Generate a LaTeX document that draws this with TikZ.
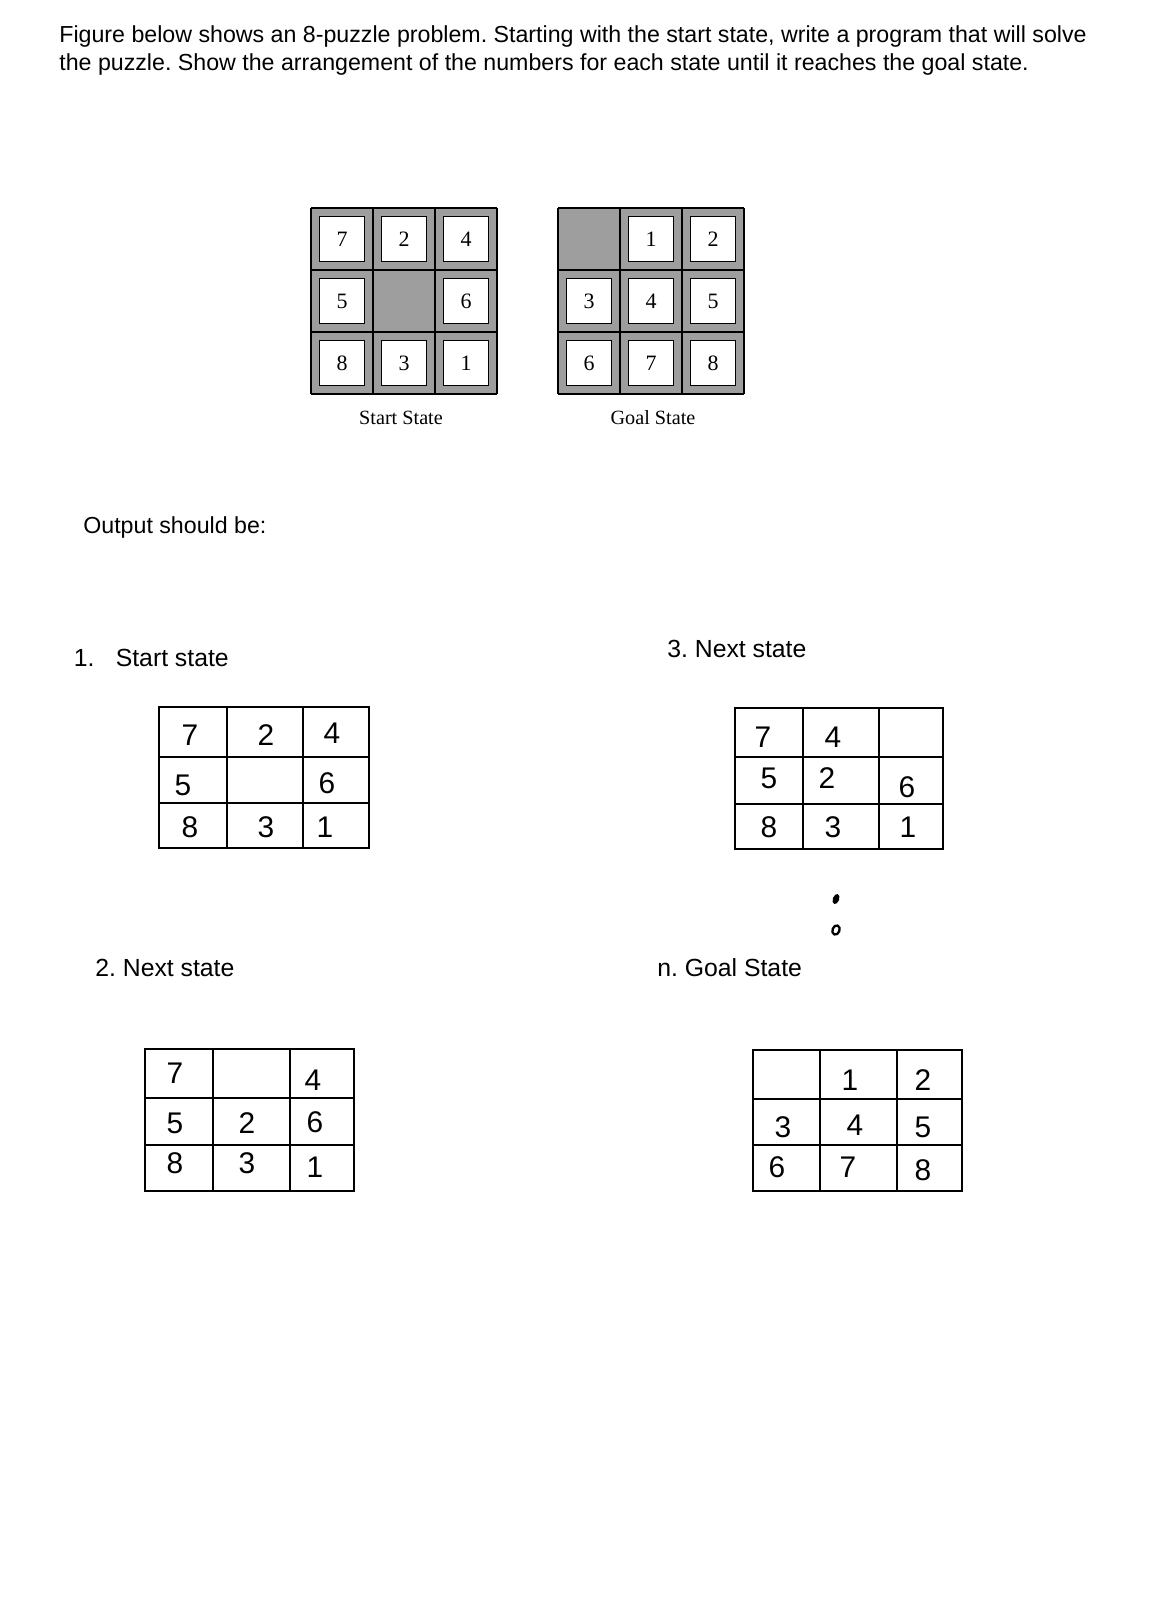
\documentclass[tikz,border=0pt]{standalone}
\usepackage{fontspec}
\setmainfont{Liberation Serif}
\newfontfamily\helv{Liberation Sans}
\colorlet{tilegray}{black!38}
\frenchspacing
\begin{document}
\begin{tikzpicture}[x=0.02cm,y=-0.02cm,
  prose/.style={anchor=base west,inner sep=0,font=\helv\fontsize{13.2}{16}\selectfont},
  label/.style={anchor=base west,inner sep=0,font=\helv\fontsize{14.1}{17}\selectfont},
  caption/.style={anchor=base,inner sep=0,font=\fontsize{11.5}{14}\selectfont},
  tile/.style={draw,fill=white,line width=0.5pt,minimum size=0.9cm,inner sep=0,font=\fontsize{12.5}{14}\selectfont},
  board/.style={line width=1pt},
  hand/.style={inner sep=0,font=\helv\fontsize{17}{20}\selectfont},
  handgrid/.style={line width=1.6pt}]
\useasboundingbox (0,0) rectangle (1155,1600);
% question
\node[prose] (q1) at (59,42) {Figure below shows an 8-puzzle problem. Starting with the start state, write a program that will solve};
\node[prose] (q2) at (59,70) {the puzzle. Show the arrangement of the numbers for each state until it reaches the goal state.};
% printed boards
\foreach \ox/\p/\cells in {311/s/{7,2,4,5,0,6,8,3,1},558/g/{0,1,2,3,4,5,6,7,8}}{
  \foreach \n [count=\k from 0] in \cells {
    \pgfmathtruncatemacro\c{mod(\k,3)}
    \pgfmathtruncatemacro\r{div(\k,3)}
    \fill[tilegray] (\ox+62*\c,208+62*\r) rectangle ++(62,62);
    \ifnum\n>0 \node[tile] (\p\k) at (\ox+31+62*\c,239+62*\r) {\n}; \fi
  }
  \foreach \i in {0,...,3}{
    \draw[board] (\ox+62*\i,208) -- ++(0,186);
    \draw[board] (\ox,208+62*\i) -- ++(186,0);
  }
}
\node[caption] (startcap) at (401,424.5) {Start State};
\node[caption] (goalcap) at (653,424.5) {Goal State};
\node[prose] (out) at (83,533) {Output should be:};
% 1. start state
\node[label] (l1) at (73.5,666) {1.\hspace{0.86em}Start state};
\draw[handgrid] (159,707) rectangle (369,848) (227,707) -- (227,848) (303,707) -- (303,848)
  (159,757) -- (369,757) (159,803) -- (369,803);
\foreach \x/\y/\d in {190/735/7,266/735/2,332/733/4,183/785/5,327/783/6,190/827/8,266/827/3,325/827/1}
  \node[hand] (a\d) at (\x,\y) {\d};
% 2. next state
\node[label] (l2) at (95,976.5) {2. Next state};
\draw[handgrid] (145,1049) rectangle (354,1191) (213,1049) -- (213,1191) (290,1049) -- (290,1191)
  (145,1098) -- (354,1098) (145,1145) -- (354,1145);
\foreach \x/\y/\d in {175/1073/7,313/1080/4,175/1123/5,247/1123/2,315/1122/6,175/1163/8,247/1163/3,315/1167/1}
  \node[hand] (b\d) at (\x,\y) {\d};
% 3. next state
\node[label] (l3) at (667,657) {3. Next state};
\draw[handgrid] (735,708) rectangle (943,849) (803,708) -- (803,849) (879,708) -- (879,849)
  (735,757) -- (943,757) (735,804) -- (943,804);
\foreach \x/\y/\d in {763/737/7,833/737/4,769/778/5,827/778/2,907/787/6,769/827/8,833/827/3,908/827/1}
  \node[hand] (c\d) at (\x,\y) {\d};
\fill (836,899) circle[x radius=1.8pt,y radius=3pt,rotate=-20];
\draw[line width=1.3pt] (836,930) circle[x radius=2pt,y radius=2.7pt,rotate=-20];
% n. goal state
\node[label] (ln) at (657,976.5) {n. Goal State};
\draw[handgrid] (753,1050) rectangle (962,1191) (820,1050) -- (820,1191) (897,1050) -- (897,1191)
  (753,1099) -- (962,1099) (753,1145) -- (962,1145);
\foreach \x/\y/\d in {850/1080/1,923/1080/2,783/1127/3,855/1125/4,923/1127/5,777/1167/6,848/1167/7,923/1170/8}
  \node[hand] (d\d) at (\x,\y) {\d};
\end{tikzpicture}
\end{document}
